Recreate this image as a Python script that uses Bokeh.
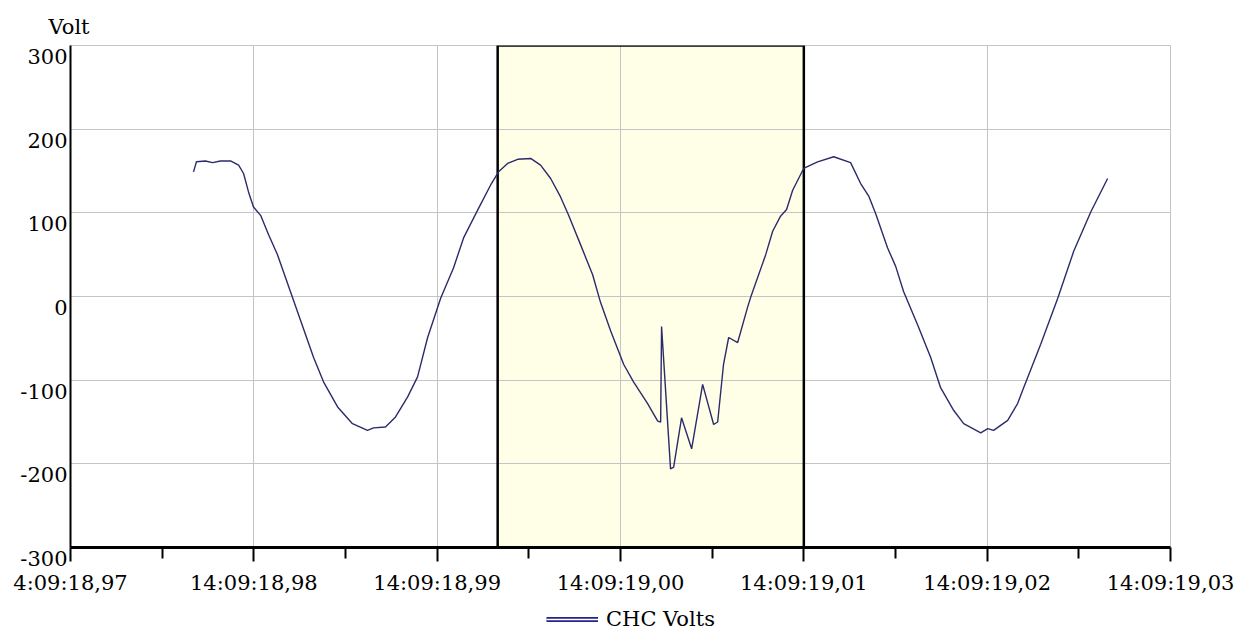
from bokeh.plotting import figure
from bokeh.layouts import column
from bokeh.models import (Range1d, FixedTicker, BoxAnnotation, Legend, Title,
                          LegendItem, ColumnDataSource)
from bokeh.embed import file_html
from bokeh.resources import INLINE

# ---- data (time in ms after 14:09:18,970) ----
t_ms = [6.71, 6.87, 7.36, 7.75, 8.18, 8.73, 9.17, 9.44, 9.71, 9.98, 10.37, 10.80,
        11.29, 13.26, 13.80, 14.57, 15.38, 16.20, 16.53, 17.18, 17.73, 18.39, 18.93,
        19.48, 20.19, 20.89, 21.44, 22.20, 22.91, 23.35, 23.84, 24.39, 25.10, 25.64,
        26.19, 26.73, 27.17, 27.82, 28.48, 28.91, 29.46, 30.17, 30.71, 31.48, 32.03,
        32.19, 32.24, 32.73, 32.90, 33.33, 33.88, 34.48, 35.08, 35.30, 35.62, 35.90,
        36.39, 36.93, 37.10, 37.92, 38.30, 38.73, 39.06, 39.39, 39.99, 40.75, 41.63,
        42.55, 43.10, 43.54, 43.92, 44.57, 45.01, 45.44, 46.21, 46.92, 47.46, 48.17,
        48.72, 49.65, 50.03, 50.35, 51.12, 51.66, 51.99, 52.92, 53.85, 54.72, 55.65,
        56.57]
volts = [149, 161, 162, 160, 162, 162, 157, 147, 125, 107, 97, 74,
         50, -73, -102, -132, -152, -160, -157, -156, -144, -120, -96,
         -49, -2, 34, 70, 103, 133, 149, 159, 164, 165, 157,
         141, 119, 97, 62, 26, -7, -41, -81, -102, -128, -149,
         -150, -36, -206, -204, -145, -182, -105, -153, -150, -81, -49,
         -55, -13, -1, 50, 78, 96, 104, 127, 153, 161, 167,
         160, 135, 120, 99, 58, 36, 6, -34, -73, -109, -136,
         -152, -163, -158, -160, -148, -128, -109, -57, -2, 54, 101,
         141]

x_ticks = [0, 10, 20, 30, 40, 50, 60]
x_tick_labels = ["4:09:18,97", "14:09:18,98", "14:09:18,99", "14:09:19,00",
                 "14:09:19,01", "14:09:19,02", "14:09:19,03"]
y_ticks = [-300, -200, -100, 0, 100, 200, 300]
y_tick_labels = ["-300", "-200", "-100", "0", "100", "200", "300"]
box_start_ms = 23.3
box_end_ms = 40.0
series_name = "CHC Volts"
y_title = "Volt"

FONT = "DejaVu Serif"
FS = "21px"

p = figure(width=1236, height=600, x_range=Range1d(0, 60),
           y_range=Range1d(-300, 300), output_backend="svg", toolbar_location=None,
           min_border_left=70, min_border_right=66, min_border_top=45, min_border_bottom=53)
p.background_fill_color = "white"
p.border_fill_color = "white"
p.outline_line_color = "#c4c4c4"

# x axis
minor = [(a + b) / 2 for a, b in zip(x_ticks[:-1], x_ticks[1:])]
p.xaxis.ticker = FixedTicker(ticks=x_ticks, minor_ticks=minor)
p.xaxis.major_label_overrides = {float(k): v for k, v in zip(x_ticks, x_tick_labels)}
p.xaxis.axis_line_width = 3
p.xaxis.axis_line_color = "black"
p.xaxis.major_tick_out = 14
p.xaxis.major_tick_in = 0
p.xaxis.minor_tick_out = 11
p.xaxis.minor_tick_in = 0
p.xaxis.major_tick_line_width = 2
p.xaxis.minor_tick_line_width = 2
p.xaxis.major_label_standoff = 9
p.xaxis.major_label_text_font = FONT
p.xaxis.major_label_text_font_size = FS
p.xaxis.major_label_text_color = "black"

# y axis: labels hang just below their grid line (empty first line)
p.yaxis.ticker = FixedTicker(ticks=y_ticks, minor_ticks=[])
p.yaxis.major_label_overrides = {float(k): "\n" + v for k, v in zip(y_ticks, y_tick_labels)}
p.yaxis.axis_line_width = 2
p.yaxis.axis_line_color = "black"
p.yaxis.major_tick_out = 0
p.yaxis.major_tick_in = 0
p.yaxis.minor_tick_out = 0
p.yaxis.minor_tick_in = 0
p.yaxis.major_label_standoff = 3
p.yaxis.major_label_text_font = FONT
p.yaxis.major_label_text_font_size = FS
p.yaxis.major_label_text_color = "black"
p.yaxis.major_label_text_line_height = 0.95

p.xgrid.grid_line_color = "#c4c4c4"
p.ygrid.grid_line_color = "#c4c4c4"
p.xgrid.grid_line_width = 1
p.ygrid.grid_line_width = 1

# highlighted region
box_fill = BoxAnnotation(left=box_start_ms, right=box_end_ms, fill_color="#ffffe8",
                         fill_alpha=1.0, line_color=None, level="image")
box_edge = BoxAnnotation(left=box_start_ms, right=box_end_ms, fill_alpha=0.0,
                         line_color="black", line_alpha=1.0, line_width=2.5,
                         level="underlay")
p.add_layout(box_fill)
p.add_layout(box_edge)

src = ColumnDataSource(dict(t=t_ms, v=volts))
p.line("t", "v", source=src, line_color="#2b2b6b", line_width=1.4)

p.add_layout(Title(text=y_title, align="left", offset=-22, text_font=FONT,
                   text_font_size=FS, text_font_style="normal", text_color="black",
                   standoff=14), "above")

# ---- legend strip (own small figure; its renderers lie outside its y view) ----
pl = figure(width=1236, height=32, x_range=Range1d(0, 60), y_range=Range1d(10000, 20000),
            output_backend="svg", toolbar_location=None, min_border=0,
            x_axis_location=None, y_axis_location=None)
pl.outline_line_color = None
pl.grid.visible = False
pl.background_fill_color = "white"
pl.border_fill_color = "white"
r_outer = pl.line("t", "v", source=src, line_color="#22228a", line_width=5)
r_inner = pl.line("t", "v", source=src, line_color="white", line_width=1.4)
legend = Legend(items=[LegendItem(label=series_name, renderers=[r_outer, r_inner])],
                location=(476, 1), orientation="horizontal", glyph_width=52,
                glyph_height=10, label_height=18, label_text_font=FONT,
                label_text_font_size=FS, label_text_color="black",
                border_line_color=None, background_fill_alpha=0, padding=0, margin=0,
                spacing=0, label_standoff=8)
pl.add_layout(legend)

layout = column(p, pl, spacing=0)
open("out.html", "w").write(file_html(layout, INLINE))
